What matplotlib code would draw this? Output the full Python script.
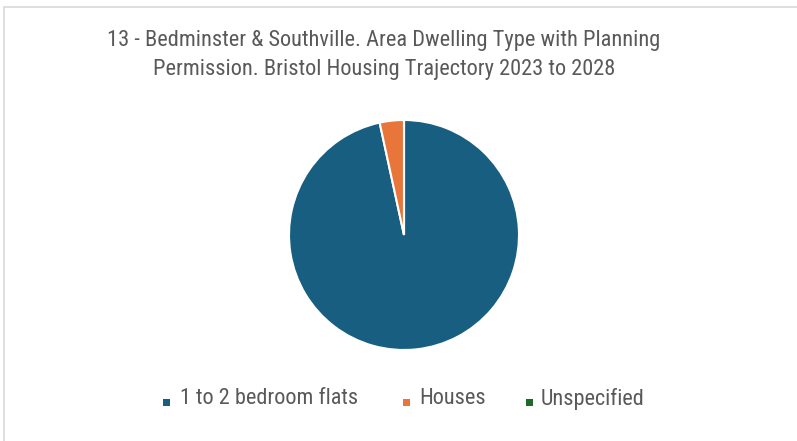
import matplotlib
matplotlib.use("Agg")
import matplotlib.pyplot as plt
from matplotlib.patches import Rectangle

categories = ["1 to 2 bedroom flats", "Houses", "Unspecified"]
values = [96.6, 3.4, 0.0]
colors = ["#175E80", "#E8763A", "#1D6B2B"]
title = "13 - Bedminster & Southville. Area Dwelling Type with Planning\nPermission. Bristol Housing Trajectory 2023 to 2028"

plt.rcParams["font.family"] = ["Roboto Condensed", "DejaVu Sans"]

W, H = 797, 441
fig = plt.figure(figsize=(W / 100, H / 100), dpi=100)
fig.patch.set_facecolor("white")

# outer border
fig.patches.append(Rectangle((4 / W, -0.01), 1.0, 1 - 7 / H + 0.01, transform=fig.transFigure,
                             fill=False, edgecolor="#D9D9D9", linewidth=1.2))

cx, cy, r = 404, 235, 115
ax = fig.add_axes([(cx - r) / W, 1 - (cy + r) / H, 2 * r / W, 2 * r / H])
wedges, _ = ax.pie(values, colors=colors, startangle=90, counterclock=False,
                   radius=1.0, wedgeprops=dict(edgecolor="white", linewidth=1.5))
ax.set_xlim(-1, 1)
ax.set_ylim(-1, 1)
ax.axis("off")

fig.text(384 / W, 1 - 55 / H, title, ha="center", va="center", fontsize=16.1,
         color="#595959", linespacing=1.49)

# legend
marker_x = [166, 406, 529]
text_x = [180, 419, 541]
for cat, col, mx, tx in zip(categories, colors, marker_x, text_x):
    s = 7
    fig.patches.append(Rectangle(((mx - s / 2) / W, 1 - (402 + s / 2) / H), s / W, s / H,
                                 transform=fig.transFigure, facecolor=col, edgecolor="none"))
    fig.text(tx / W, 1 - 399 / H, cat, ha="left", va="center", fontsize=16,
             color="#595959")

fig.savefig("out.png", dpi=100)
